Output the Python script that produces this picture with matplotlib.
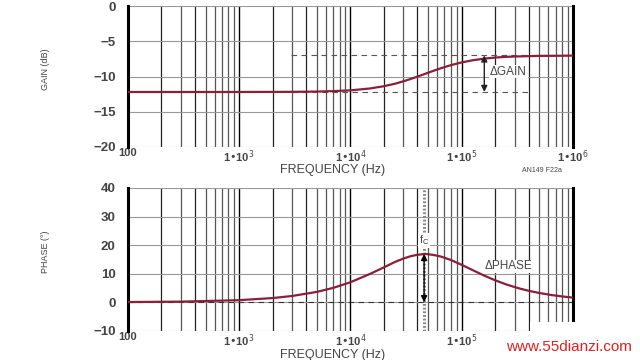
import matplotlib
matplotlib.use("Agg")
import matplotlib.pyplot as plt

freq = [100, 300, 1e3, 2e3, 3e3, 5e3, 7e3, 1e4, 1.5e4, 2e4, 2.5e4, 3e4, 3.5e4, 4e4, 4.7e4,
        5.5e4, 6.5e4, 8e4, 1e5, 1.25e5, 1.6e5, 2e5, 2.5e5, 3.2e5, 4e5, 5e5, 6.5e5, 8e5, 1e6]
gain_db = [-12.2, -12.2, -12.2, -12.19, -12.18, -12.14, -12.08, -11.97, -11.70, -11.38, -11.04,
           -10.68, -10.34, -10.02, -9.62, -9.23, -8.83, -8.39, -8.0, -7.70, -7.46, -7.31, -7.21,
           -7.15, -7.11, -7.07, -7.06, -7.05, -7.03]
phase_deg = [0.07, 0.22, 0.73, 1.47, 2.2, 3.63, 5.02, 7.0, 9.91, 12.2, 14.05, 15.3, 16.14, 16.6,
             16.9, 16.6, 16.0, 14.8, 13.1, 11.3, 9.3, 7.7, 6.28, 4.98, 4.02, 3.24, 2.5, 2.04, 1.64]

gain_hi = -7.0
gain_lo = -12.2
fc = 4.6e4
phase_peak = 16.9

gain_ticks = [0, -5, -10, -15, -20]
phase_ticks = [40, 30, 20, 10, 0, -10]
xticks = [100, 1e3, 1e4, 1e5, 1e6]
xticklabels_top = ["100", r"1•10$^3$", r"1•10$^4$", r"1•10$^5$", r"1•10$^6$"]
xticklabels_bot = ["100", r"1•10$^3$", r"1•10$^4$", r"1•10$^5$", ""]

plt.rcParams['font.family'] = ['Liberation Sans', 'DejaVu Sans']
curve_color = "#8a1f3c"
txt_color = "#444444"

fig = plt.figure(figsize=(6.4, 3.6), dpi=100)
ax1 = fig.add_axes([0.2, 0.592, 0.695, 0.391])
ax2 = fig.add_axes([0.2, 0.081, 0.695, 0.397])

def style(ax, ylim, yticks, ylabel, xlabels):
    ax.set_xscale('log')
    ax.set_xlim(100, 1e6)
    ax.set_ylim(*ylim)
    ax.set_yticks(yticks)
    ax.set_yticklabels([("\u2212" + str(-t)) if t < 0 else str(t) for t in yticks],
                       fontsize=9.5, fontweight='bold', color=txt_color)
    ax.set_xticks(xticks)
    ax.set_xticklabels(xlabels, fontsize=8, fontweight='bold', color=txt_color)
    ax.minorticks_off()
    ax.tick_params(axis='x', length=0, pad=1)
    ax.tick_params(axis='y', length=0, pad=9)
    for dec in [100, 1e3, 1e4, 1e5]:
        for m in range(2, 10):
            ax.axvline(dec * m, color="#555555" if m in (3, 5, 6, 7, 8, 9) else "#222222",
                       lw=0.9, zorder=1)
    for dec in [1e3, 1e4, 1e5]:
        ax.axvline(dec, color="black", lw=1.0, zorder=1)
    for t in yticks:
        ax.axhline(t, color="#999999", lw=0.8, zorder=1)
    for s in ['top', 'bottom']:
        ax.spines[s].set_visible(False)
    ax.spines['left'].set_linewidth(2.2)
    ax.spines['right'].set_linewidth(2.2)
    ax.set_ylabel(ylabel, fontsize=6.5, color=txt_color)
    ax.yaxis.set_label_coords(-0.175, 0.55)
    ax.set_xlabel("FREQUENCY (Hz)", fontsize=9, color=txt_color)
    ax.xaxis.set_label_coords(0.46, -0.125)

style(ax1, (-20, 0), gain_ticks, "GAIN (dB)", xticklabels_top)
style(ax2, (-10, 40), phase_ticks, "PHASE (°)", xticklabels_bot)

# Gain plot
ax1.plot([2.9e3, 1e6], [gain_hi, gain_hi], color="#555555", lw=0.8, ls=(0, (5, 4)), zorder=2)
ax1.plot([3e3, 4.2e5], [gain_lo, gain_lo], color="#555555", lw=0.8, ls=(0, (5, 4)), zorder=2)
ax1.plot(freq, gain_db, color=curve_color, lw=1.6, zorder=3)
ax1.annotate("", xy=(1.6e5, gain_hi), xytext=(1.6e5, gain_lo),
             arrowprops=dict(arrowstyle="<|-|>", color="#222222", lw=1.0,
                             mutation_scale=9, shrinkA=0, shrinkB=0), zorder=4)
ax1.text(1.8e5, -9.3, "ΔGAIN", fontsize=8.5, color=txt_color, va='center', ha='left',
         bbox=dict(facecolor='white', edgecolor='none', pad=0.5), zorder=4)
fig.text(0.815, 0.522, "AN149 F22a", fontsize=5, color=txt_color)

# Phase plot
ax2.axhline(0, color="#333333", lw=0.8, ls=(0, (5, 4)), zorder=2)
ax2.axvline(fc, color="#888888", lw=2.2, ls=(0, (0.6, 0.6)), zorder=2)
ax2.plot(freq, phase_deg, color=curve_color, lw=1.6, zorder=3)
ax2.annotate("", xy=(fc, phase_peak), xytext=(fc, 0),
             arrowprops=dict(arrowstyle="<|-|>", color="black", lw=1.0,
                             mutation_scale=9, shrinkA=0, shrinkB=0), zorder=4)
ax2.text(fc, 19.3, r"f$_\mathregular{C}$", fontsize=8, color=txt_color, ha='center', va='bottom',
         bbox=dict(facecolor='white', edgecolor='none', pad=0.3), zorder=4)
ax2.text(1.6e5, 12.6, "ΔPHASE", fontsize=8.5, color=txt_color, va='center', ha='left',
         bbox=dict(facecolor='white', edgecolor='none', pad=0.5), zorder=4)

# watermark
fig.patches.append(plt.Rectangle((530 / 640, 0), 110 / 640, 38 / 360, transform=fig.transFigure,
                                 facecolor='white', edgecolor='none', zorder=10))
fig.text(0.79, 0.025, "www.55dianzi.com", fontsize=11, color="#e02020", zorder=11)

fig.savefig("out.png", dpi=100)
